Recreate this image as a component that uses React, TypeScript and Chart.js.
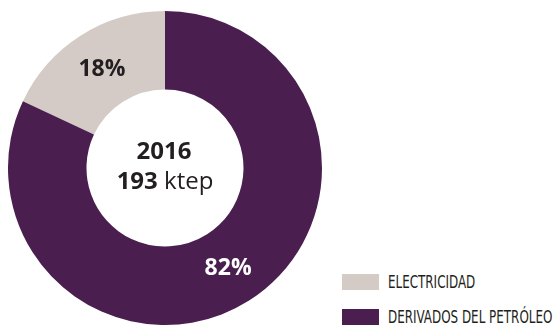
import React, { useEffect, useRef } from "react";
import { Chart, registerables } from "chart.js";

Chart.register(...registerables);

const categories = ["ELECTRICIDAD", "DERIVADOS DEL PETRÓLEO"];
const shares = [18, 82];
const sliceColors = ["#d4cbc7", "#4a1f4f"];
const labelColors = ["#231f20", "#ffffff"];
const centerYear = "2016";
const centerTotal = "193";
const centerUnit = "ktep";

const FONT = "'Open Sans', 'Noto Sans', sans-serif";
const LEGEND_FONT = "'DejaVu Sans Condensed', 'Open Sans', sans-serif";

const labelPlugin = {
  id: "sliceLabels",
  afterDatasetsDraw(chart: any) {
    const ctx = chart.ctx;
    const meta = chart.getDatasetMeta(0);
    ctx.save();
    ctx.textAlign = "center";
    ctx.textBaseline = "middle";
    ctx.font = `700 23px ${FONT}`;
    meta.data.forEach((arc: any, i: number) => {
      const p = arc.tooltipPosition();
      ctx.fillStyle = labelColors[i];
      ctx.fillText(`${shares[i]}%`, p.x, p.y + 1);
    });
    // center text
    const cx = (chart.chartArea.left + chart.chartArea.right) / 2;
    const cy = (chart.chartArea.top + chart.chartArea.bottom) / 2;
    ctx.fillStyle = "#231f20";
    ctx.font = `700 24px ${FONT}`;
    ctx.fillText(centerYear, cx - 1, cy - 16);
    const boldPart = centerTotal;
    const regPart = " " + centerUnit;
    ctx.font = `700 24px ${FONT}`;
    const wb = ctx.measureText(boldPart).width;
    ctx.font = `400 24px ${FONT}`;
    const wr = ctx.measureText(regPart).width;
    const start = cx - (wb + wr) / 2;
    ctx.textAlign = "left";
    ctx.font = `700 24px ${FONT}`;
    ctx.fillText(boldPart, start, cy + 14);
    ctx.font = `400 24px ${FONT}`;
    ctx.fillText(regPart, start + wb, cy + 14);
    ctx.restore();
  },
};

export default function App() {
  const ref = useRef<HTMLCanvasElement>(null);
  useEffect(() => {
    if (!ref.current) return;
    const total = shares.reduce((a, b) => a + b, 0);
    const chart = new Chart(ref.current, {
      type: "doughnut",
      data: {
        labels: categories,
        datasets: [
          {
            data: shares,
            backgroundColor: sliceColors,
            borderWidth: 0,
          },
        ],
      },
      options: {
        animation: false,
        responsive: false,
        maintainAspectRatio: false,
        cutout: "50%",
        rotation: -(shares[0] / total) * 360,
        layout: { padding: 0 },
        plugins: {
          legend: { display: false },
          tooltip: { enabled: false },
        },
      },
      plugins: [labelPlugin],
    });
    return () => chart.destroy();
  }, []);

  return (
    <div style={{ position: "absolute", left: 0, top: 0, width: 555, height: 329, background: "#fff", overflow: "hidden" }}>
      <canvas ref={ref} width={314} height={314} style={{ position: "absolute", left: 8, top: 11, width: 314, height: 314 }} />
      {categories.map((c, i) => (
        <div key={c} style={{ position: "absolute", left: 342, top: 274 + i * 35, height: 16, display: "flex", alignItems: "center" }}>
          <div style={{ width: 37, height: 16, background: sliceColors[i] }} />
          <span
            style={{
              marginLeft: 9,
              fontFamily: LEGEND_FONT,
              fontSize: 17,
              color: "#231f20",
              whiteSpace: "nowrap",
              lineHeight: "16px",
              display: "inline-block",
              transform: "scaleX(0.78)",
              transformOrigin: "left center",
            }}
          >
            {c}
          </span>
        </div>
      ))}
    </div>
  );
}
